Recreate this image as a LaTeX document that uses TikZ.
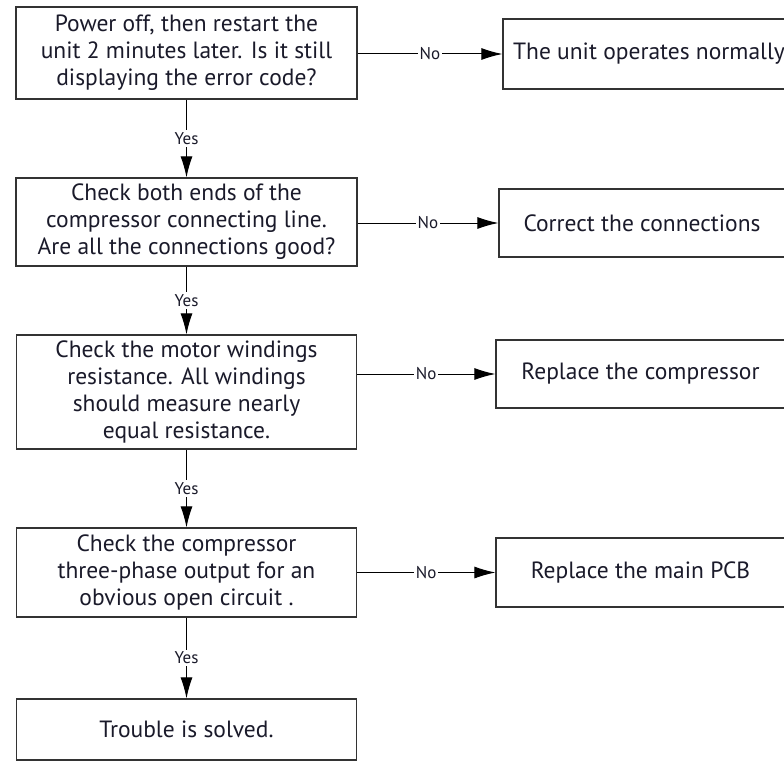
\documentclass[tikz,border=0pt]{standalone}
\usepackage{fontspec}
\setmainfont{PT Sans}
\usetikzlibrary{arrows.meta}
\definecolor{boxline}{HTML}{333333}
\definecolor{txt}{HTML}{1A1A2A}
\begin{document}
\begin{tikzpicture}[x=1pt,y=-1pt,
  mainbox/.style={draw=boxline, line width=1.2pt, align=center, text=txt,
    font=\fontsize{23.5}{27}\selectfont, inner sep=0pt},
  sidebox/.style={draw=boxline, line width=1.2pt, align=center, text=txt,
    font=\fontsize{23.5}{27}\selectfont, inner sep=0pt},
  conn/.style={draw=black, line width=1pt, -{Latex[length=21pt,width=12pt]}},
  lbl/.style={fill=white, text=txt, font=\fontsize{17}{19}\selectfont, inner xsep=1.5pt, inner ysep=2pt}
]
\useasboundingbox (0,0) rectangle (784,762);
\fill[white] (0,0) rectangle (784,762);

\node[mainbox, minimum width=341pt, minimum height=92pt] (b1) at (186.5,53)
  {Power off, then restart the\\unit 2 minutes later. Is it still\\displaying the error code?};
\node[mainbox, minimum width=341pt, minimum height=88pt] (b2) at (186.5,222)
  {Check both ends of the\\compressor connecting line.\\Are all the connections good?};
\node[mainbox, minimum width=340pt, minimum height=114pt] (b3) at (186.5,392)
  {Check the motor windings\\resistance. All windings\\should measure nearly\\equal resistance.};
\node[mainbox, minimum width=340pt, minimum height=89pt] (b4) at (186.5,572.5)
  {Check the compressor\\three-phase output for an\\obvious open circuit .};
\node[mainbox, minimum width=340pt, minimum height=61pt] (b5) at (186.5,729.5)
  {Trouble is solved.};

\node[sidebox, minimum width=282pt, minimum height=70pt] (r1) at (644,54)
  {\hspace*{10pt}The unit operates normally};
\node[sidebox, minimum width=286pt, minimum height=68pt] (r2) at (642,223)
  {Correct the connections};
\node[sidebox, minimum width=289pt, minimum height=68pt] (r3) at (640.5,374)
  {Replace the compressor};
\node[sidebox, minimum width=289pt, minimum height=69pt] (r4) at (640.5,572.5)
  {Replace the main PCB};

\draw[conn] (b1.south) -- node[lbl] (y1) {Yes} (b2.north);
\draw[conn] (b2.south) -- node[lbl] (y2) {Yes} (b3.north);
\draw[conn] (b3.south) -- node[lbl] (y3) {Yes} (b4.north);
\draw[conn] (b4.south) -- node[lbl] (y4) {Yes} (b5.north);

\draw[conn] (r1.west -| b1.east) -- node[lbl] (n1) {No} (r1.west);
\draw[conn] (r2.west -| b2.east) -- node[lbl] (n2) {No} (r2.west);
\draw[conn] (r3.west -| b3.east) -- node[lbl] (n3) {No} (r3.west);
\draw[conn] (r4.west -| b4.east) -- node[lbl] (n4) {No} (r4.west);
\end{tikzpicture}
\end{document}
